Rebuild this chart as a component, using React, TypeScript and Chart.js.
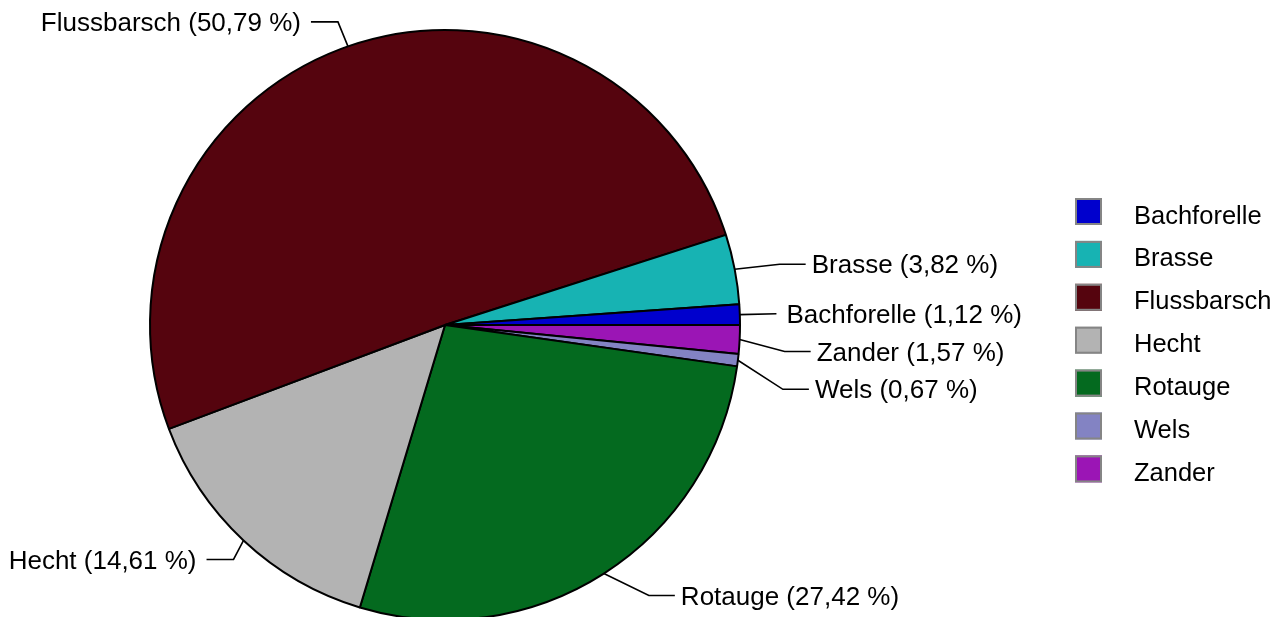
import React, { useEffect, useRef } from "react";
import { Chart, registerables } from "chart.js";

Chart.register(...registerables);

// Data (legend order, alphabetical)
const categories = ["Bachforelle", "Brasse", "Flussbarsch", "Hecht", "Rotauge", "Wels", "Zander"];
const shares = [1.12, 3.82, 50.79, 14.61, 27.42, 0.67, 1.57];
const sliceColors = ["#0000CD", "#17B3B3", "#55040E", "#B3B3B3", "#046A1F", "#8383C3", "#9B15B5"];

const LABEL_FONT = "26px 'Liberation Sans', Arial, sans-serif";
const LEGEND_FONT = "25.5px 'Liberation Sans', Arial, sans-serif";
const fmt = (v: number) => v.toFixed(2).replace(".", ",") + " %";

const labelPlugin = {
  id: "pieLabels",
  afterDatasetsDraw(chart: any) {
    const ctx = chart.ctx as CanvasRenderingContext2D;
    const meta = chart.getDatasetMeta(0);
    const lbls = chart.data.labels as string[];
    const vals = chart.data.datasets[0].data as number[];
    ctx.save();
    ctx.font = LABEL_FONT;
    const items = meta.data.map((arc: any, i: number) => {
      const p = arc.getProps(["x", "y", "startAngle", "endAngle", "outerRadius"], true);
      const mid = (p.startAngle + p.endAngle) / 2;
      const c = Math.cos(mid);
      const s = Math.sin(mid);
      return {
        text: `${lbls[i]} (${fmt(vals[i])})`,
        ex: p.x + p.outerRadius * c,
        ey: p.y + p.outerRadius * s,
        ly: p.y + (p.outerRadius + 26) * s,
        right: c >= 0,
      };
    });
    for (const side of [true, false]) {
      const group = items.filter((it: any) => it.right === side).sort((a: any, b: any) => a.ly - b.ly);
      for (let k = 1; k < group.length; k++) {
        if (group[k].ly < group[k - 1].ly + 37.8) group[k].ly = group[k - 1].ly + 37.8;
      }
    }
    ctx.strokeStyle = "#000";
    ctx.lineWidth = 1.6;
    ctx.fillStyle = "#000";
    ctx.textBaseline = "middle";
    const maxRight = 1022;
    for (const it of items) {
      const w = ctx.measureText(it.text).width;
      let elbowX: number, endX: number, textX: number;
      if (it.right) {
        elbowX = it.ex + 45;
        endX = elbowX + 26;
        textX = endX + 6;
        if (textX + w > maxRight) {
          textX = maxRight - w;
          endX = textX - 10;
          elbowX = Math.min(elbowX, endX);
        }
        ctx.textAlign = "left";
      } else {
        elbowX = it.ex - 10;
        endX = elbowX - 27;
        textX = endX - 10;
        ctx.textAlign = "right";
      }
      ctx.beginPath();
      ctx.moveTo(it.ex, it.ey);
      ctx.lineTo(elbowX, it.ly);
      ctx.lineTo(endX, it.ly);
      ctx.stroke();
      ctx.fillText(it.text, textX, it.ly + 2);
    }
    ctx.restore();
  },
  afterDraw(chart: any) {
    const ctx = chart.ctx as CanvasRenderingContext2D;
    ctx.save();
    ctx.font = LEGEND_FONT;
    ctx.textBaseline = "middle";
    ctx.textAlign = "left";
    categories.forEach((name, i) => {
      const cy = 211.5 + i * 42.9;
      ctx.fillStyle = sliceColors[i];
      ctx.fillRect(1075, cy - 13.5, 27, 27);
      ctx.strokeStyle = "#858585";
      ctx.lineWidth = 2;
      ctx.strokeRect(1076, cy - 12.5, 25, 25);
      ctx.fillStyle = "#000";
      ctx.fillText(name, 1134, cy + 5);
    });
    ctx.restore();
  },
};

export default function App() {
  const ref = useRef<HTMLCanvasElement | null>(null);
  useEffect(() => {
    if (!ref.current) return;
    const order = categories.map((_, i) => i).reverse();
    const chart = new Chart(ref.current, {
      type: "pie",
      data: {
        labels: order.map((i) => categories[i]),
        datasets: [
          {
            data: order.map((i) => shares[i]),
            backgroundColor: order.map((i) => sliceColors[i]),
            borderColor: "#000",
            borderWidth: 2,
          },
        ],
      },
      options: {
        responsive: false,
        animation: false,
        devicePixelRatio: 1,
        rotation: 90,
        radius: 295,
        layout: { padding: { left: 150, right: 538, top: 30, bottom: 40 } },
        plugins: { legend: { display: false }, tooltip: { enabled: false } },
      } as any,
      plugins: [labelPlugin],
    });
    return () => chart.destroy();
  }, []);
  return (
    <div style={{ position: "fixed", left: 0, top: 0, width: 1278, height: 617, overflow: "hidden", background: "#fff" }}>
      <canvas ref={ref} width={1278} height={660} style={{ display: "block", width: 1278, height: 660 }} />
    </div>
  );
}
